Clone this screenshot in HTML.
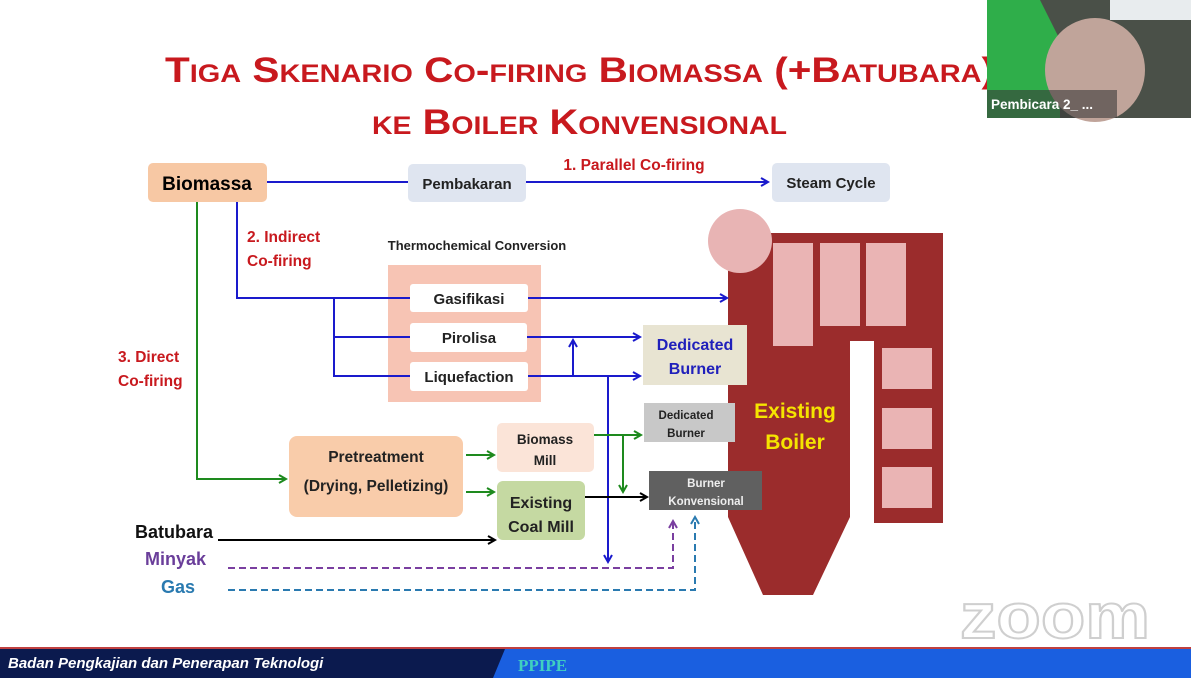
<!DOCTYPE html>
<html><head><meta charset="utf-8"><style>
html,body{margin:0;padding:0;background:#fff;}
svg{display:block;font-family:"Liberation Sans",sans-serif;}
.b{font-weight:bold;}
</style></head><body>
<svg width="1191" height="678" viewBox="0 0 1191 678">
<defs>
<marker id="ab" markerWidth="10" markerHeight="10" refX="8" refY="5" orient="auto" markerUnits="userSpaceOnUse"><path d="M1,1 L8,5 L1,9" fill="none" stroke="#1a1acc" stroke-width="2"/></marker>
<marker id="ag" markerWidth="10" markerHeight="10" refX="8" refY="5" orient="auto" markerUnits="userSpaceOnUse"><path d="M1,1 L8,5 L1,9" fill="none" stroke="#1e8a1e" stroke-width="2"/></marker>
<marker id="ak" markerWidth="10" markerHeight="10" refX="8" refY="5" orient="auto" markerUnits="userSpaceOnUse"><path d="M1,1 L8,5 L1,9" fill="none" stroke="#000" stroke-width="2"/></marker>
<marker id="ap" markerWidth="10" markerHeight="10" refX="8" refY="5" orient="auto" markerUnits="userSpaceOnUse"><path d="M1,1 L8,5 L1,9" fill="none" stroke="#7a3fa0" stroke-width="2"/></marker>
<marker id="ac" markerWidth="10" markerHeight="10" refX="8" refY="5" orient="auto" markerUnits="userSpaceOnUse"><path d="M1,1 L8,5 L1,9" fill="none" stroke="#2a7ab0" stroke-width="2"/></marker>
</defs>
<!-- Title -->
<text x="165" y="82" class="b" fill="#c8191e" font-size="35" style="font-variant:small-caps" textLength="830" lengthAdjust="spacingAndGlyphs">Tiga Skenario Co-firing Biomassa (+Batubara)</text>
<text x="372" y="134" class="b" fill="#c8191e" font-size="35" style="font-variant:small-caps" textLength="415" lengthAdjust="spacingAndGlyphs">ke Boiler Konvensional</text>

<!-- Boiler -->
<path d="M728,233 H943 V523 H874 V341 H850 V517 L813,595 H763 L728,517 Z" fill="#9b2c2c"/>
<circle cx="740" cy="241" r="32" fill="#e8b4b4"/>
<rect x="773" y="243" width="40" height="103" fill="#eab4b4"/>
<rect x="820" y="243" width="40" height="83" fill="#eab4b4"/>
<rect x="866" y="243" width="40" height="83" fill="#eab4b4"/>
<rect x="882" y="348" width="50" height="41" fill="#eab4b4"/>
<rect x="882" y="408" width="50" height="41" fill="#eab4b4"/>
<rect x="882" y="467" width="50" height="41" fill="#eab4b4"/>
<text x="795" y="418" class="b" fill="#f5e400" font-size="21" text-anchor="middle">Existing</text>
<text x="795" y="449" class="b" fill="#f5e400" font-size="21" text-anchor="middle">Boiler</text>

<!-- boxes -->
<rect x="148" y="163" width="119" height="39" rx="5" fill="#f7c8a4"/>
<text x="207" y="190" class="b" font-size="19" text-anchor="middle">Biomassa</text>
<rect x="408" y="164" width="118" height="38" rx="5" fill="#dfe5f0"/>
<text x="467" y="189" class="b" font-size="15" text-anchor="middle" fill="#222">Pembakaran</text>
<rect x="772" y="163" width="118" height="39" rx="5" fill="#dfe5f0"/>
<text x="831" y="188" class="b" font-size="15" text-anchor="middle" fill="#222">Steam Cycle</text>
<text x="477" y="250" class="b" font-size="13" text-anchor="middle" fill="#222">Thermochemical Conversion</text>
<rect x="388" y="265" width="153" height="137" fill="#f7c4b4"/>
<rect x="410" y="284" width="118" height="28" rx="3" fill="#fff"/>
<text x="469" y="304" class="b" font-size="15" text-anchor="middle" fill="#222">Gasifikasi</text>
<rect x="410" y="323" width="117" height="29" rx="3" fill="#fff"/>
<text x="469" y="343" class="b" font-size="15" text-anchor="middle" fill="#222">Pirolisa</text>
<rect x="410" y="362" width="118" height="29" rx="3" fill="#fff"/>
<text x="469" y="382" class="b" font-size="15" text-anchor="middle" fill="#222">Liquefaction</text>

<rect x="643" y="325" width="104" height="60" fill="#e8e4d2"/>
<text x="695" y="350" class="b" font-size="16" text-anchor="middle" fill="#2020bb">Dedicated</text>
<text x="695" y="374" class="b" font-size="16" text-anchor="middle" fill="#2020bb">Burner</text>
<rect x="644" y="403" width="91" height="39" fill="#c8c8c8"/>
<text x="686" y="419" class="b" font-size="11.5" text-anchor="middle" fill="#222">Dedicated</text>
<text x="686" y="437" class="b" font-size="11.5" text-anchor="middle" fill="#222">Burner</text>
<rect x="649" y="471" width="113" height="39" fill="#606060"/>
<text x="706" y="487" class="b" font-size="11.5" text-anchor="middle" fill="#eee">Burner</text>
<text x="706" y="505" class="b" font-size="11.5" text-anchor="middle" fill="#eee">Konvensional</text>

<rect x="289" y="436" width="174" height="81" rx="8" fill="#f9ccaa"/>
<text x="376" y="462" class="b" font-size="15.5" text-anchor="middle" fill="#222">Pretreatment</text>
<text x="376" y="491" class="b" font-size="15.5" text-anchor="middle" fill="#222">(Drying, Pelletizing)</text>
<rect x="497" y="423" width="97" height="49" rx="5" fill="#fbe4d8"/>
<text x="545" y="444" class="b" font-size="13.5" text-anchor="middle" fill="#222">Biomass</text>
<text x="545" y="465" class="b" font-size="13.5" text-anchor="middle" fill="#222">Mill</text>
<rect x="497" y="481" width="88" height="59" rx="6" fill="#c5d9a2"/>
<text x="541" y="508" class="b" font-size="16" text-anchor="middle" fill="#222">Existing</text>
<text x="541" y="532" class="b" font-size="16" text-anchor="middle" fill="#222">Coal Mill</text>

<!-- labels -->
<text x="634" y="170" class="b" font-size="15.5" text-anchor="middle" fill="#c8191e">1. Parallel Co-firing</text>
<text x="247" y="242" class="b" font-size="15.5" fill="#c8191e">2. Indirect</text>
<text x="247" y="266" class="b" font-size="15.5" fill="#c8191e">Co-firing</text>
<text x="118" y="362" class="b" font-size="15.5" fill="#c8191e">3. Direct</text>
<text x="118" y="386" class="b" font-size="15.5" fill="#c8191e">Co-firing</text>
<text x="135" y="538" class="b" font-size="18" fill="#111">Batubara</text>
<text x="145" y="565" class="b" font-size="18" fill="#6a3e9a">Minyak</text>
<text x="161" y="593" class="b" font-size="18" fill="#2a7ab0">Gas</text>

<!-- blue connectors -->
<g stroke="#1a1acc" stroke-width="2" fill="none">
<line x1="267" y1="182" x2="408" y2="182"/>
<line x1="526" y1="182" x2="768" y2="182" marker-end="url(#ab)"/>
<polyline points="237,202 237,298 410,298"/>
<polyline points="334,298 334,376 410,376"/>
<line x1="334" y1="337" x2="410" y2="337"/>
<line x1="528" y1="298" x2="727" y2="298" marker-end="url(#ab)"/>
<line x1="527" y1="337" x2="640" y2="337" marker-end="url(#ab)"/>
<line x1="528" y1="376" x2="640" y2="376" marker-end="url(#ab)"/>
<line x1="573" y1="376" x2="573" y2="340" marker-end="url(#ab)"/>
<line x1="608" y1="376" x2="608" y2="562" marker-end="url(#ab)"/>
</g>
<!-- green -->
<g stroke="#1e8a1e" stroke-width="2" fill="none">
<polyline points="197,202 197,479 286,479" marker-end="url(#ag)"/>
<line x1="466" y1="455" x2="494" y2="455" marker-end="url(#ag)"/>
<line x1="466" y1="492" x2="494" y2="492" marker-end="url(#ag)"/>
<line x1="594" y1="435" x2="641" y2="435" marker-end="url(#ag)"/>
<line x1="623" y1="435" x2="623" y2="492" marker-end="url(#ag)"/>
</g>
<g stroke="#000" stroke-width="2" fill="none">
<line x1="585" y1="497" x2="647" y2="497" marker-end="url(#ak)"/>
<line x1="218" y1="540" x2="495" y2="540" marker-end="url(#ak)"/>
</g>
<polyline points="228,568 673,568 673,521" stroke="#7a3fa0" stroke-width="2" stroke-dasharray="7,4" fill="none" marker-end="url(#ap)"/>
<polyline points="228,590 695,590 695,517" stroke="#2a7ab0" stroke-width="2" stroke-dasharray="7,4" fill="none" marker-end="url(#ac)"/>

<!-- zoom watermark -->
<text x="960" y="638" font-size="64" fill="#fff" stroke="#cfcfcf" stroke-width="2" class="b" textLength="190" lengthAdjust="spacingAndGlyphs">zoom</text>

<!-- webcam -->
<rect x="987" y="0" width="204" height="118" fill="#4a5048"/>
<polygon points="987,0 1040,0 1060,40 1060,118 987,118" fill="#2fae4a"/>
<rect x="1110" y="0" width="81" height="20" fill="#e8ecee"/>
<ellipse cx="1095" cy="70" rx="50" ry="52" fill="#c0a49a"/>
<rect x="987" y="90" width="130" height="28" fill="#3a3a3a" opacity="0.6"/>
<text x="991" y="109" class="b" font-size="13.5" fill="#fff">Pembicara 2_ ...</text>

<!-- bottom bar -->
<rect x="0" y="647" width="1191" height="2" fill="#c04040"/>
<rect x="0" y="649" width="1191" height="29" fill="#1a5fe0"/>
<polygon points="0,649 505,649 493,678 0,678" fill="#0b1a4e"/>
<text x="8" y="668" class="b" font-size="15" font-style="italic" fill="#fff">Badan Pengkajian dan Penerapan  Teknologi</text>
<text x="518" y="671" class="b" font-size="17" fill="#40d0c0" font-family="Liberation Serif">PPIPE</text>
</svg>
</body></html>
